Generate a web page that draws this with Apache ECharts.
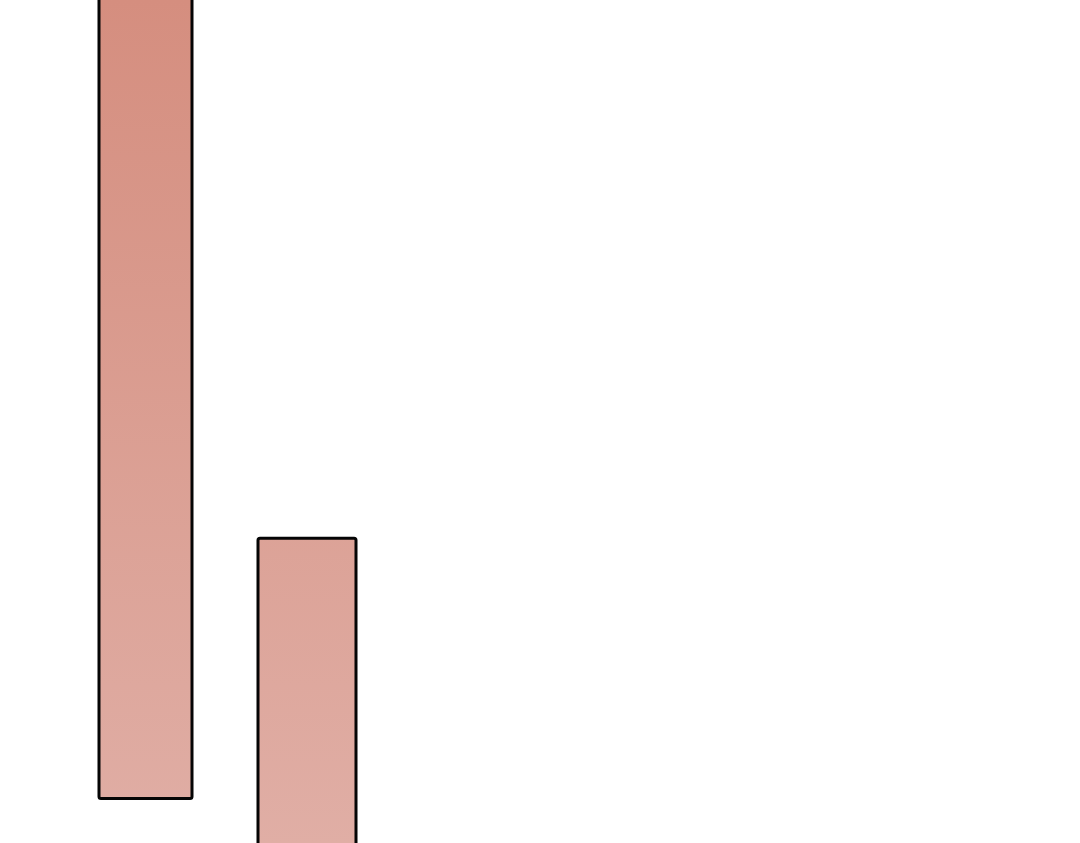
<!DOCTYPE html>
<html>
<head>
<meta charset="utf-8">
<title>bars</title>
<script src="https://cdn.jsdelivr.net/npm/echarts@6/dist/echarts.min.js"></script>
<style>
html, body { margin:0; padding:0; background:#fff; }
#chart { width:1080px; height:843px; }
</style>
</head>
<body>
<div id="chart"></div>
<script>
// data (axes are cropped away, units are relative)
var categories = ['A', 'B'];
var lows  = [9.75, 0];
var highs = [105, 40.25];

var spanValues = highs.map(function (v, i) { return v - lows[i]; });

var fill = new echarts.graphic.LinearGradient(0, 0, 0, 843, [
    { offset: 0, color: '#d58e7f' },
    { offset: 1, color: '#e0aea5' }
], true);

var barStyle = { color: fill, borderColor: '#050505', borderWidth: 3, borderRadius: 2 };

var chart = echarts.init(document.getElementById('chart'));
chart.setOption({
    animation: false,
    grid: { left: 68.5, width: 318, top: -65.4, bottom: -41.3, outerBoundsMode: 'none', containLabel: false },
    xAxis: {
        type: 'category',
        data: categories,
        show: false
    },
    yAxis: {
        type: 'value',
        min: 0,
        max: 110,
        show: false
    },
    series: [
        {
            name: 'base1',
            type: 'bar',
            stack: 'a',
            barWidth: 96,
            barGap: '-100%',
            itemStyle: { color: 'transparent' },
            data: [lows[0], '-']
        },
        {
            name: 'bar1',
            type: 'bar',
            stack: 'a',
            barWidth: 96,
            barGap: '-100%',
            itemStyle: barStyle,
            data: [spanValues[0], '-']
        },
        {
            name: 'bar2',
            type: 'bar',
            stack: 'b',
            barWidth: 101,
            barGap: '-100%',
            itemStyle: barStyle,
            data: ['-', spanValues[1]]
        }
    ]
});
</script>
</body>
</html>
